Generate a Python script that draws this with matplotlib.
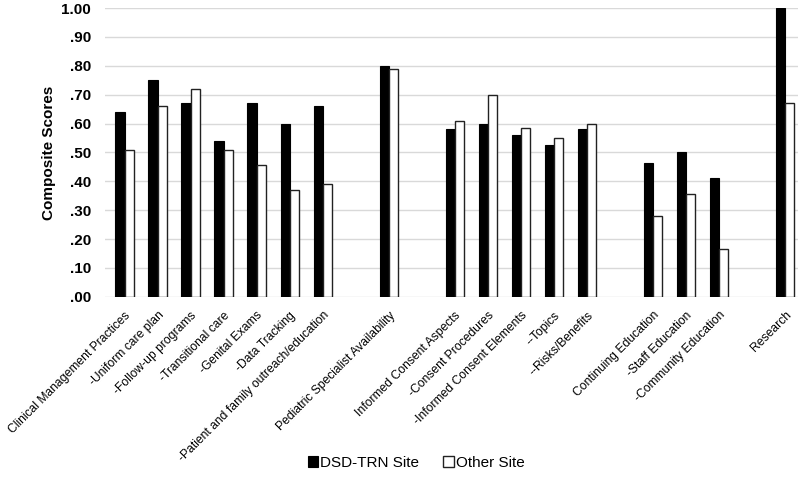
import numpy as np
from matplotlib import pyplot as plt
from matplotlib.ticker import FuncFormatter

plt.rcParams['font.family'] = ['Liberation Sans', 'DejaVu Sans']

# empty strings are the blank slots between groups
labels = ['Clinical Management Practices', '-Uniform care plan', '-Follow-up programs',
          '-Transitional care', '-Genital Exams', '-Data Tracking',
          '-Patient and family outreach/education', '',
          'Pediatric Specialist Availability', '',
          'Informed Consent Aspects', '-Consent Procedures', '-Informed Consent Elements',
          '--Topics', '--Risks/Benefits', '',
          'Continuing Education', '-Staff Education', '-Community Education', '',
          'Research']
dsd = [.64, .75, .67, .54, .67, .60, .66, np.nan, .80, np.nan,
       .58, .60, .56, .525, .58, np.nan, .465, .50, .41, np.nan, 1.00]
other = [.51, .66, .72, .51, .455, .37, .39, np.nan, .79, np.nan,
         .61, .70, .585, .55, .60, np.nan, .28, .355, .165, np.nan, .67]

x = np.arange(len(labels))
w = 0.28

fig = plt.figure(figsize=(8.0, 4.78), dpi=100)
ax = fig.add_axes([0.131, 0.379, 0.867, 0.604])

ax.bar(x - w/2, dsd, w, color='black', edgecolor='black', linewidth=0.8,
       label='DSD-TRN Site', zorder=3)
ax.bar(x + w/2, other, w, color='white', edgecolor='#222222', linewidth=1.0,
       label='Other Site', zorder=3)

ax.set_ylim(0, 1.0)
ax.set_xlim(-0.6, 20.4)
ax.set_yticks(np.arange(0, 1.01, 0.1))
ax.yaxis.set_major_formatter(FuncFormatter(lambda v, p: ('%.2f' % v).lstrip('0') if v < 1 else '%.2f' % v))
ax.grid(axis='y', color='#d9d9d9', linewidth=1.0, zorder=0)
for s in ax.spines.values():
    s.set_visible(False)
ax.tick_params(length=0)
ax.tick_params(axis='y', pad=10)
for t in ax.get_yticklabels():
    t.set_fontweight('bold')
    t.set_fontsize(11)
ax.set_ylabel('Composite Scores', fontsize=11, fontweight='bold', labelpad=4)

ax.set_xticks(x)
ax.set_xticklabels(labels, rotation=45, ha='right', rotation_mode='anchor', fontsize=8.7)
ax.tick_params(axis='x', pad=9)

fig.legend(loc='lower center', ncol=2, frameon=False, fontsize=11,
           bbox_to_anchor=(0.52, -0.012), handlelength=0.7, handleheight=0.7,
           handletextpad=0.1, columnspacing=1.6)

plt.savefig('out.png', dpi=100)
